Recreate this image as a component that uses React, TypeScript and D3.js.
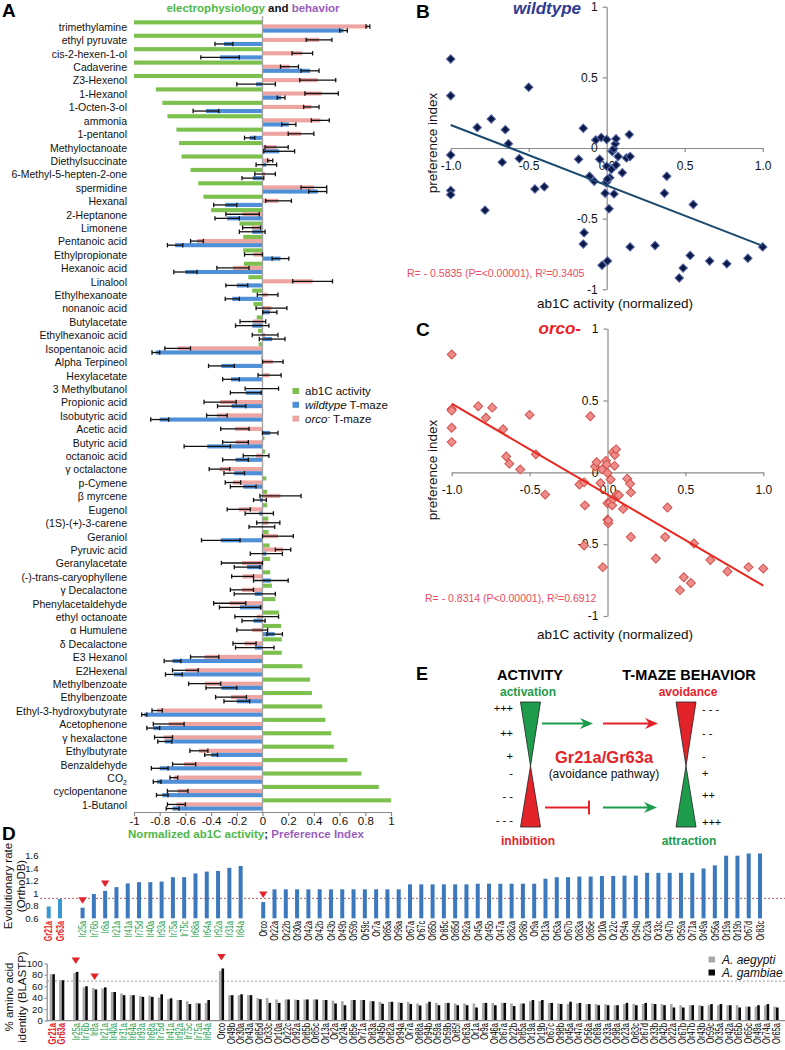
import React, { useEffect, useRef } from 'react';
import * as d3 from 'd3';

const FONT = "'Liberation Sans', Arial, Helvetica, sans-serif";

// ---------- panel A/B/C: odorants, ab1C activity and T-maze preference ----------
const odorants = [
  'trimethylamine', 'ethyl pyruvate', 'cis-2-hexen-1-ol', 'Cadaverine', 'Z3-Hexenol', '1-Hexanol',
  '1-Octen-3-ol', 'ammonia', '1-pentanol', 'Methyloctanoate', 'Diethylsuccinate', '6-Methyl-5-hepten-2-one',
  'spermidine', 'Hexanal', '2-Heptanone', 'Limonene', 'Pentanoic acid', 'Ethylpropionate', 'Hexanoic acid',
  'Linalool', 'Ethylhexanoate', 'nonanoic acid', 'Butylacetate', 'Ethylhexanoic acid', 'Isopentanoic acid',
  'Alpha Terpineol', 'Hexylacetate', '3 Methylbutanol', 'Propionic acid', 'Isobutyric acid', 'Acetic acid',
  'Butyric acid', 'octanoic acid', 'γ octalactone', 'p-Cymene', 'β myrcene', 'Eugenol', '(1S)-(+)-3-carene',
  'Geraniol', 'Pyruvic acid', 'Geranylacetate', '(-)-trans-caryophyllene', 'γ Decalactone', 'Phenylacetaldehyde',
  'ethyl octanoate', 'α Humulene', 'δ Decalactone', 'E3 Hexanol', 'E2Hexenal', 'Methylbenzoate', 'Ethylbenzoate',
  'Ethyl-3-hydroxybutyrate', 'Acetophenone', 'γ hexalactone', 'Ethylbutyrate', 'Benzaldehyde', 'CO2',
  'cyclopentanone', '1-Butanol',
];
const ab1cActivity = [
  -1, -1, -1, -1, -1, -0.83, -0.78, -0.74, -0.67, -0.65, -0.63, -0.56, -0.5, -0.46, -0.4, -0.18, -0.15, -0.15,
  -0.145, -0.11, -0.08, -0.07, -0.045, -0.035, -0.03, -0.01, -0.005, 0, 0, 0.005, 0, 0.015, 0.02, 0.005, 0.03,
  0.035, 0.036, 0.045, 0.047, 0.055, 0.06, 0.06, 0.073, 0.1, 0.127, 0.145, 0.15, 0.15, 0.31, 0.37, 0.385, 0.465,
  0.49, 0.535, 0.555, 0.66, 0.77, 0.905, 1,
];
const wildtypePI = [
  0.63, -0.3, -0.33, 0.37, -0.05, 0.145, -0.44, 0.205, -0.1, 0.13, 0.03, -0.075, 0.43, -0.29, -0.275, -0.08,
  -0.68, 0.14, -0.6, -0.2, -0.235, 0.057, -0.08, 0.075, -0.83, -0.32, -0.245, -0.13, -0.24, -0.8, 0.06, -0.43,
  -0.21, -0.22, -0.15, -0.02, -0.025, -0.005, -0.325, 0.03, -0.12, 0.065, -0.06, -0.175, -0.07, 0.095, -0.06,
  -0.7, -0.69, -0.32, -0.2, -0.92, -0.85, -0.76, -0.4, -0.8, -0.82, -0.78, -0.7,
];
const wildtypeSEM = [
  0.03, 0.07, 0.15, 0.07, 0.15, 0.03, 0.1, 0.055, 0.04, 0.12, 0.08, 0.085, 0.07, 0.09, 0.095, 0.1, 0.06, 0.065,
  0.09, 0.085, 0.055, 0.055, 0.13, 0.1, 0.03, 0.1, 0.065, 0.12, 0.11, 0.07, 0.06, 0.18, 0.1, 0.08, 0.1, 0.05,
  0.11, 0.1, 0.15, 0.125, 0.1, 0.135, 0.16, 0.16, 0.09, 0.06, 0.15, 0.065, 0.065, 0.12, 0.1, 0.02, 0.05, 0.055,
  0.05, 0.065, 0.03, 0.045, 0.05,
];
const orcoPI = [
  0.82, 0.44, 0.31, 0.21, 0.43, 0.46, 0.38, 0.45, 0.3, 0.11, 0.06, 0.02, 0.4, 0.125, -0.155, -0.085, -0.51,
  -0.07, -0.23, 0.39, 0.04, 0.07, -0.075, 0.02, -0.66, 0.08, 0.055, -0.005, -0.33, -0.355, -0.215, -0.21, -0.05,
  -0.335, -0.23, 0.14, -0.185, 0.045, 0.12, 0.16, -0.16, -0.155, -0.16, -0.255, -0.045, -0.08, -0.14, -0.45,
  -0.6, -0.45, -0.245, -0.82, -0.73, -0.77, -0.495, -0.61, -0.69, -0.66, -0.67,
];
const orcoSEM = [
  0.015, 0.1, 0.08, 0.07, 0.14, 0.13, 0.06, 0.07, 0.1, 0.09, 0.02, 0.08, 0.1, 0.1, 0.13, 0.07, 0.05, 0.07,
  0.125, 0.155, 0.08, 0.12, 0.1, 0.1, 0.1, 0.08, 0.09, 0.13, 0.125, 0.08, 0.11, 0.1, 0.1, 0.08, 0.06, 0.16,
  0.09, 0.09, 0.12, 0.06, 0.16, 0.085, 0.09, 0.125, 0.17, 0.12, 0.09, 0.11, 0.1, 0.125, 0.12, 0.04, 0.12, 0.07,
  0.07, 0.09, 0.03, 0.08, 0.07,
];
const barTicks = [-1, -0.8, -0.6, -0.4, -0.2, 0, 0.2, 0.4, 0.6, 0.8, 1];
const scatterTicks = [-1, -0.5, 0, 0.5, 1];

// ---------- panel D: receptor evolution ----------
const evoGenes = [
  'Gr21a', 'Gr63a', 'Ir25a', 'Ir76b', 'Ir8a', 'Ir21a', 'Ir41a', 'Ir75d', 'Ir40a', 'Ir93a', 'Ir75a', 'Ir75c',
  'Ir68a', 'Ir64a', 'Ir92a', 'Ir31a', 'Ir84a', 'Orco', 'Or22a', 'Or22b', 'Or30a', 'Or42a', 'Or42b', 'Or43b',
  'Or49b', 'Or59b', 'Or59c', 'Or7a', 'Or85a', 'Or98a', 'Or67a', 'Or67c', 'Or85b', 'Or85c', 'Or85d', 'Or92a',
  'Or45a', 'Or45b', 'Or47a', 'Or82a', 'Or98b', 'Or9a', 'Or13a', 'Or63a', 'Or67b', 'Or83a', 'Or85e', 'Or10a',
  'Or22c', 'Or94a', 'Or94b', 'Or23a', 'Or33c', 'Or47b', 'Or59a', 'Or71a', 'Or49a', 'Or56a', 'Or19a', 'Or19b',
  'Or67d', 'Or83c',
];
const evoRate = [
  0.79, 0.91, 0.77, 0.99, 1.04, 1.1, 1.16, 1.18, 1.18, 1.19, 1.26, 1.26, 1.32, 1.35, 1.36, 1.41, 1.44, 0.86,
  1.065, 1.065, 1.065, 1.065, 1.065, 1.065, 1.065, 1.065, 1.065, 1.065, 1.065, 1.065,
  1.145, 1.145, 1.145, 1.145, 1.145, 1.145, 1.155, 1.155, 1.155, 1.155, 1.155, 1.155,
  1.235, 1.26, 1.26, 1.27, 1.27, 1.28, 1.28, 1.285, 1.285, 1.33, 1.33, 1.33, 1.33, 1.33, 1.4, 1.45,
  1.605, 1.605, 1.64, 1.64,
];
const evoTicks = [0.6, 0.8, 1, 1.2, 1.4, 1.6];
const evoCutoff = 0.92;

const identityGenes = [
  'Gr21a', 'Gr63a', 'Ir25a', 'Ir76b', 'Ir8a', 'Ir21a', 'Ir40a', 'Ir31a', 'Ir64a', 'Ir93a', 'Ir68a', 'Ir75d',
  'Ir41a', 'Ir92a', 'Ir75c', 'Ir75a', 'Ir84a', 'Orco', 'Or49b', 'Or30a', 'Or43a', 'Or85d', 'Or33c', 'Or10a',
  'Or22c', 'Or92a', 'Or85b', 'Or85c', 'Or13a', 'Or2a', 'Or24a', 'Or85e', 'Or71a', 'Or83a', 'Or45b', 'Or82a',
  'Or94a', 'Or7a', 'Or88a', 'Or94b', 'Or59a', 'Or59b', 'Or85f', 'Or63a', 'Or1a', 'Or9a', 'Or46a', 'Or67a',
  'Or22b', 'Or85a', 'Or19a', 'Or19b', 'Or67c', 'Or98b', 'Or45a', 'Or47a', 'Or56a', 'Or69a', 'Or33a', 'Or98a',
  'Or23a', 'Or83c', 'Or67d', 'Or33b', 'Or42b', 'Or22a', 'Or67b', 'Or47b', 'Or43b', 'Or59c', 'Or35a', 'Or42a',
  'Or65b', 'Or65c', 'Or49a', 'Or74a', 'Or65a',
];
const identityAegypti = [
  81, 70.5, 83, 58, 57, 56, 50, 47.5, 44.5, 43, 43.5, 40.5, 37.5, 36, 34, 31, 31, 86.5, 44.5, 44.5, 44.5, 39.5,
  39.5, 37, 37, 37, 37, 37, 36, 35, 34, 36, 36, 34, 33, 33, 32, 33, 30, 30, 31, 31, 30, 30, 30, 31, 31, 31, 30,
  30, 34, 34, 31, 30, 29, 30, 29, 29, 29, 27, 29, 29, 29, 30, 29, 29, 27, 27, 27, 27, 27, 27, 27, 24.5, 24.5,
  27, 24.5,
];
const identityGambiae = [
  81, 70.5, 85, 60, 54.5, 58, 50, 44.5, 44.5, 41.5, 41.5, 46, 39, 36, 29, 30, 36, 91, 44.5, 46, 44.5, 37.5, 31,
  31, 37, 36, 37, 37, 36, 30, 27, 36, 36, 34, 29.5, 33, 31, 29, 26.5, 33, 27, 31, 27, 27, 23, 31, 27, 31, 25.5,
  30, 36, 36, 31, 29, 33, 31, 29, 27, 27, 27, 31, 27, 31, 29, 27, 23, 23, 27, 25.5, 29, 29, 27, 23, 24.5, 27,
  29, 23,
];
const identityTicks = [0, 20, 40, 60, 80, 100];
const identityCutoff = 69;
const markedGenes = ['Ir25a', 'Ir8a', 'Orco'];

const C = {
  green: '#7cc14e', pink: '#eea4a1', blue: '#4f8fd7',
  titleGreen: '#4db848', purple: '#9a5dbf',
  axis: '#8c8c8c', red: '#e3232a', dGreen: '#1d9c4b',
  evoBar: '#3b78bd', evoBarGr: '#3a97d5', gray: '#a9a9a9',
};

function geneGroup(g: string) {
  return g.startsWith('Gr') ? 'Gr' : g.startsWith('Ir') ? 'Ir' : 'Or';
}
function geneColor(g: string) {
  const grp = geneGroup(g);
  return grp === 'Gr' ? C.red : grp === 'Ir' ? C.dGreen : '#000';
}
function slotPositions(genes: string[], gap: number) {
  let s = 0;
  return genes.map((g, i) => {
    if (i > 0 && geneGroup(g) !== geneGroup(genes[i - 1])) s += gap;
    const out = s;
    s += 1;
    return out;
  });
}

function txt(g: any, x: number, y: number, str: string, o: any = {}) {
  return g.append('text')
    .attr('x', x).attr('y', y)
    .attr('font-size', o.size || 11)
    .attr('font-weight', o.weight || 'normal')
    .attr('font-style', o.style || 'normal')
    .attr('fill', o.fill || '#000')
    .attr('text-anchor', o.anchor || 'start')
    .text(str);
}

function styleAxis(sel: any, size: number) {
  sel.attr('font-family', FONT).attr('font-size', size);
  sel.select('.domain').attr('stroke', C.axis).attr('stroke-width', 1.2);
  sel.selectAll('.tick line').attr('stroke', C.axis).attr('stroke-width', 1.2);
  sel.selectAll('.tick text').attr('fill', '#111');
}

// ---------------- panel A ----------------
function drawOdorBars(svg: any) {
  const g = svg.append('g').attr('font-family', FONT);
  const x = d3.scaleLinear().domain([-1, 1]).range([134, 391]);
  const y = d3.scaleBand().domain(odorants).range([20.3, 811.7]);
  const bh = y.bandwidth() * 0.306;

  txt(g, 2, 17, 'A', { size: 19, weight: 'bold' });
  const title = g.append('text').attr('x', 253).attr('y', 11.5).attr('text-anchor', 'middle')
    .attr('font-size', 11.5).attr('font-weight', 'bold');
  title.append('tspan').attr('fill', C.titleGreen).text('electrophysiology');
  title.append('tspan').attr('fill', '#111').text(' and ');
  title.append('tspan').attr('fill', C.purple).text('behavior');

  const series = [
    { values: ab1cActivity, err: null, color: C.green, k: 0 },
    { values: orcoPI, err: orcoSEM, color: C.pink, k: 1 },
    { values: wildtypePI, err: wildtypeSEM, color: C.blue, k: 2 },
  ];
  series.forEach((s) => {
    g.append('g').selectAll('rect').data(odorants).join('rect')
      .attr('x', (d: string, i: number) => Math.min(x(0), x(s.values[i])))
      .attr('width', (d: string, i: number) => Math.abs(x(s.values[i]) - x(0)))
      .attr('y', (d: string) => (y(d) as number) + s.k * bh)
      .attr('height', bh)
      .attr('fill', s.color);
  });

  g.append('line').attr('x1', x(0)).attr('x2', x(0)).attr('y1', 16).attr('y2', 812)
    .attr('stroke', '#a3a3a3').attr('stroke-width', 1.3);

  series.filter((s) => s.err).forEach((s) => {
    const eg = g.append('g').attr('stroke', '#111').attr('stroke-width', 1.3);
    odorants.forEach((d, i) => {
      const cy = (y(d) as number) + s.k * bh + bh / 2;
      const lo = x(s.values[i] - (s.err as number[])[i]);
      const hi = x(s.values[i] + (s.err as number[])[i]);
      eg.append('line').attr('x1', lo).attr('x2', hi).attr('y1', cy).attr('y2', cy);
      eg.append('line').attr('x1', lo).attr('x2', lo).attr('y1', cy - 2.2).attr('y2', cy + 2.2);
      eg.append('line').attr('x1', hi).attr('x2', hi).attr('y1', cy - 2.2).attr('y2', cy + 2.2);
    });
  });

  // category labels
  odorants.forEach((d) => {
    const t = g.append('text').attr('x', 127).attr('y', (y(d) as number) + y.bandwidth() / 2)
      .attr('dy', '0.36em').attr('text-anchor', 'end').attr('font-size', 10.5).attr('fill', '#111');
    if (d === 'CO2') {
      t.append('tspan').text('CO');
      t.append('tspan').attr('font-size', 7).attr('dy', 3).text('2');
    } else t.text(d);
  });

  const xa = g.append('g').attr('transform', 'translate(0,812)')
    .call(d3.axisBottom(x).tickValues(barTicks).tickSize(4).tickSizeOuter(0).tickPadding(1)
      .tickFormat((v: any) => String(+(+v).toFixed(1))));
  styleAxis(xa, 11.5);

  const xt = g.append('text').attr('x', 246).attr('y', 837.5).attr('text-anchor', 'middle')
    .attr('font-size', 11.5).attr('font-weight', 'bold');
  xt.append('tspan').attr('fill', C.titleGreen).text('Normalized ab1C activity');
  xt.append('tspan').attr('fill', '#111').text('; ');
  xt.append('tspan').attr('fill', C.purple).text('Preference Index');

  // legend
  const lg = g.append('g').attr('font-size', 11.5);
  const items = [
    { color: C.green, parts: [['ab1C activity', 'normal']] },
    { color: C.blue, parts: [['wildtype', 'italic'], [' T-maze', 'normal']] },
    { color: C.pink, parts: [['orco', 'italic'], ['-', 'sup'], [' T-maze', 'after']] },
  ];
  items.forEach((it, i) => {
    const cy = 391 + i * 13.8;
    lg.append('rect').attr('x', 292.5).attr('y', cy - 3).attr('width', 6.5).attr('height', 6).attr('fill', it.color);
    const t = lg.append('text').attr('x', 305).attr('y', cy + 4).attr('fill', '#111');
    it.parts.forEach(([s, st]) => {
      if (st === 'sup') t.append('tspan').attr('font-size', 8).attr('dy', -4).text(s);
      else if (st === 'after') t.append('tspan').attr('dy', 4).text(s);
      else t.append('tspan').attr('font-style', st).text(s);
    });
  });
}

// ---------------- panels B, C ----------------
function drawScatter(svg: any, cfg: any) {
  const g = svg.append('g').attr('font-family', FONT);
  const x = d3.scaleLinear().domain([-1, 1]).range(cfg.xRange);
  const y = d3.scaleLinear().domain([-1, 1]).range(cfg.yRange);

  const xa = g.append('g').attr('transform', `translate(0,${y(0)})`)
    .call(d3.axisBottom(x).tickValues(scatterTicks).tickSize(4).tickSizeOuter(0).tickPadding(9)
      .tickFormat((v: any) => (+v).toFixed(1)));
  styleAxis(xa, 12);
  const ya = g.append('g').attr('transform', `translate(${x(0)},0)`)
    .call(d3.axisLeft(y).tickValues(scatterTicks).tickSize(4).tickSizeOuter(0).tickPadding(5)
      .tickFormat((v: any) => String(+v)));
  styleAxis(ya, 12);

  const xs: number[] = cfg.xs;
  const ys: number[] = cfg.ys;
  const mx = d3.mean(xs) as number;
  const my = d3.mean(ys) as number;
  const slope = d3.sum(xs, (v, i) => (v - mx) * (ys[i] - my)) / d3.sum(xs, (v) => (v - mx) ** 2);
  const icpt = my - slope * mx;

  const sym = d3.symbol().type(d3.symbolSquare).size(cfg.size);
  g.append('g').selectAll('path').data(xs).join('path')
    .attr('d', sym as any)
    .attr('transform', (v: number, i: number) => `translate(${x(v)},${y(ys[i])}) rotate(45)`)
    .attr('fill', cfg.fill).attr('stroke', cfg.stroke).attr('stroke-width', 1);

  const line = d3.line<number>().x((v) => x(v)).y((v) => y(slope * v + icpt));
  g.append('path').attr('d', line([-1, 1])).attr('fill', 'none')
    .attr('stroke', cfg.lineColor).attr('stroke-width', 2);

  txt(g, 416, cfg.letterY, cfg.letter, { size: 19, weight: 'bold' });
  txt(g, 581, cfg.titleY, cfg.title, { size: 17, weight: 'bold', style: 'italic', fill: cfg.titleColor, anchor: 'end' });
  txt(g, cfg.rX, cfg.rY, cfg.rText, { size: 10.5, fill: '#ec4a5f' });
  txt(g, 615, cfg.xTitleY, 'ab1C activity (normalized)', { size: 13.5, anchor: 'middle', fill: '#111' });
  g.append('text').attr('transform', `translate(432,${cfg.yTitleY}) rotate(-90)`)
    .attr('text-anchor', 'middle').attr('dy', '0.35em').attr('font-size', 13.5).attr('fill', '#111')
    .text('preference index');
}

// ---------------- panel E ----------------
function drawModel(svg: any) {
  const g = svg.append('g').attr('font-family', FONT);
  const tri = (p: number[][]) => 'M' + p.map((q) => q.join(',')).join('L') + 'Z';
  const top = 702, mid = 766, bot = 827, hw = 10;
  const hour = (cx: number, upper: string, lower: string) => {
    g.append('path').attr('d', tri([[cx - hw, top], [cx + hw, top], [cx, mid]]))
      .attr('fill', upper).attr('stroke', '#222').attr('stroke-width', 0.8);
    g.append('path').attr('d', tri([[cx, mid], [cx + hw, bot], [cx - hw, bot]]))
      .attr('fill', lower).attr('stroke', '#222').attr('stroke-width', 0.8);
  };
  hour(530.5, C.dGreen, C.red);
  hour(686, C.red, C.dGreen);

  const arrow = (x1: number, x2: number, yy: number, color: string) => {
    g.append('line').attr('x1', x1).attr('x2', x2 - 8).attr('y1', yy).attr('y2', yy)
      .attr('stroke', color).attr('stroke-width', 1.8);
    g.append('path').attr('d', `M${x2},${yy}L${x2 - 13},${yy - 5.5}L${x2 - 9},${yy}L${x2 - 13},${yy + 5.5}Z`)
      .attr('fill', color);
  };
  arrow(542, 593, 723.5, C.dGreen);
  arrow(603, 658, 723.5, C.red);
  arrow(603, 657, 807.5, C.dGreen);
  g.append('line').attr('x1', 545).attr('x2', 589).attr('y1', 807.5).attr('y2', 807.5)
    .attr('stroke', C.red).attr('stroke-width', 1.8);
  g.append('line').attr('x1', 589).attr('x2', 589).attr('y1', 800.5).attr('y2', 814.5)
    .attr('stroke', C.red).attr('stroke-width', 2);

  txt(g, 416, 680, 'E', { size: 18, weight: 'bold' });
  txt(g, 530, 680, 'ACTIVITY', { size: 14.5, weight: 'bold', anchor: 'middle' });
  txt(g, 689, 680, 'T-MAZE BEHAVIOR', { size: 14.5, weight: 'bold', anchor: 'middle' });
  txt(g, 528, 695.5, 'activation', { size: 12, weight: 'bold', anchor: 'middle', fill: C.dGreen });
  txt(g, 688, 695.5, 'avoidance', { size: 12, weight: 'bold', anchor: 'middle', fill: C.red });
  txt(g, 528, 844.5, 'inhibition', { size: 12, weight: 'bold', anchor: 'middle', fill: C.red });
  txt(g, 689, 844.5, 'attraction', { size: 12, weight: 'bold', anchor: 'middle', fill: C.dGreen });
  txt(g, 604, 763, 'Gr21a/Gr63a', { size: 16.5, weight: 'bold', anchor: 'middle', fill: C.red });
  txt(g, 604, 777.5, '(avoidance pathway)', { size: 12, anchor: 'middle', fill: '#111' });

  const left = [['+++', 708], ['++', 733], ['+', 756], ['-', 773], ['- -', 796], ['- - -', 820]];
  left.forEach(([s, yy]) => txt(g, 513, (yy as number) + 4, s as string, { size: 11, anchor: 'end' }));
  const right = [['- - -', 709], ['- -', 733], ['-', 756], ['+', 773], ['++', 795], ['+++', 822]];
  right.forEach(([s, yy]) => txt(g, 702, (yy as number) + 4, s as string, { size: 11 }));
}

// ---------------- panel D ----------------
function rotatedLabels(g: any, genes: string[], xpos: (i: number) => number, yTop: number, sx: number) {
  genes.forEach((gname, i) => {
    g.append('text')
      .attr('transform', `translate(${xpos(i)},${yTop}) rotate(-90) scale(${sx},1)`)
      .attr('text-anchor', 'end').attr('dy', '0.36em').attr('font-size', 10.5)
      .attr('font-weight', geneGroup(gname) === 'Gr' ? 'bold' : 'normal')
      .attr('fill', geneColor(gname)).text(gname);
  });
}
function marker(g: any, cx: number, tipY: number) {
  g.append('path').attr('d', `M${cx - 4.2},${tipY - 6.5}L${cx + 4.2},${tipY - 6.5}L${cx},${tipY}Z`).attr('fill', C.red);
}
function rotatedTitle(g: any, x: number, cy: number, str: string) {
  g.append('text').attr('transform', `translate(${x},${cy}) rotate(-90)`)
    .attr('text-anchor', 'middle').attr('dy', '0.35em').attr('font-size', 11.5).attr('fill', '#111')
    .text(str);
}

function drawEvolution(svg: any) {
  const g = svg.append('g').attr('font-family', FONT);
  txt(g, 2, 840, 'D', { size: 19, weight: 'bold' });
  const slots = slotPositions(evoGenes, 1);
  const x = d3.scaleLinear().domain([0, 63]).range([48.7, 760]);
  const y = d3.scaleLinear().domain([0.6, 1.6]).range([918.3, 856]);

  evoTicks.forEach((t) => txt(g, 38.5, y(t) + 3.3, String(t), { size: 9.5, anchor: 'end', fill: '#111' }));
  g.append('line').attr('x1', 40).attr('x2', 785).attr('y1', y(evoCutoff)).attr('y2', y(evoCutoff))
    .attr('stroke', '#b25a5a').attr('stroke-width', 1).attr('stroke-dasharray', '2,2');

  g.append('g').selectAll('rect').data(evoGenes).join('rect')
    .attr('x', (d: string, i: number) => x(slots[i]) - 2)
    .attr('width', 4)
    .attr('y', (d: string, i: number) => y(evoRate[i]))
    .attr('height', (d: string, i: number) => y(0.6) - y(evoRate[i]))
    .attr('fill', (d: string) => (geneGroup(d) === 'Gr' ? C.evoBarGr : C.evoBar));

  evoGenes.forEach((d, i) => {
    if (markedGenes.includes(d)) marker(g, x(slots[i]), y(evoRate[i]) - 4);
  });
  rotatedLabels(g, evoGenes, (i) => x(slots[i]), 921, 0.68);

  rotatedTitle(g, 8, 886, 'Evolutionary rate');
  rotatedTitle(g, 20.5, 886, '(OrthoDB)');
}

function drawIdentity(svg: any) {
  const g = svg.append('g').attr('font-family', FONT);
  const slots = slotPositions(identityGenes, 0.5);
  const x = d3.scaleLinear().domain([0, 77]).range([52.3, 776]);
  const y = d3.scaleLinear().domain([0, 100]).range([1020.7, 963.3]);

  g.append('line').attr('x1', 47).attr('x2', 785).attr('y1', y(identityCutoff)).attr('y2', y(identityCutoff))
    .attr('stroke', '#9a9a9a').attr('stroke-width', 1).attr('stroke-dasharray', '2,2');

  const bw = 2.6;
  g.append('g').selectAll('rect').data(identityGenes).join('rect')
    .attr('x', (d: string, i: number) => x(slots[i]) - bw)
    .attr('width', bw)
    .attr('y', (d: string, i: number) => y(identityAegypti[i]))
    .attr('height', (d: string, i: number) => y(0) - y(identityAegypti[i]))
    .attr('fill', C.gray);
  g.append('g').selectAll('rect').data(identityGenes).join('rect')
    .attr('x', (d: string, i: number) => x(slots[i]))
    .attr('width', bw)
    .attr('y', (d: string, i: number) => y(identityGambiae[i]))
    .attr('height', (d: string, i: number) => y(0) - y(identityGambiae[i]))
    .attr('fill', '#0a0a0a');

  const ya = g.append('g').attr('transform', 'translate(46.7,0)')
    .call(d3.axisLeft(y).tickValues(identityTicks).tickSize(2).tickSizeOuter(0).tickPadding(2)
      .tickFormat((v: any) => String(v)));
  styleAxis(ya, 9.5);
  g.append('line').attr('x1', 46.7).attr('x2', 785).attr('y1', y(0)).attr('y2', y(0))
    .attr('stroke', C.axis).attr('stroke-width', 1.2);

  identityGenes.forEach((d, i) => {
    if (markedGenes.includes(d)) {
      const top = Math.max(identityAegypti[i], identityGambiae[i]);
      marker(g, x(slots[i]), y(top) - 8);
    }
  });
  rotatedLabels(g, identityGenes, (i) => x(slots[i]), 1023, 0.72);

  rotatedTitle(g, 9, 997, '% amino acid');
  rotatedTitle(g, 22, 997, 'identity (BLASTP)');

  const legend = [['A. aegypti', C.gray, 959.5], ['A. gambiae', '#0a0a0a', 972.5]];
  legend.forEach(([label, color, cy]) => {
    g.append('rect').attr('x', 708.5).attr('y', (cy as number) - 3).attr('width', 6.5).attr('height', 6).attr('fill', color);
    txt(g, 722, (cy as number) + 4, label as string, { size: 12, style: 'italic', fill: '#111' });
  });
}

export default function App() {
  const ref = useRef<SVGSVGElement>(null);

  useEffect(() => {
    const svg = d3.select(ref.current);
    svg.selectAll('*').remove();
    svg.append('rect').attr('width', 785).attr('height', 1050).attr('fill', '#fff');
    drawOdorBars(svg);
    drawScatter(svg, {
      xRange: [450.7, 762.7], yRange: [289.3, 6.7], xs: ab1cActivity, ys: wildtypePI,
      fill: '#0c1a48', stroke: '#5868a8', lineColor: '#1b4a6e', size: 36,
      letter: 'B', letterY: 18, title: 'wildtype', titleColor: '#2e3b93', titleY: 14,
      rText: 'R= - 0.5835 (P=<0.00001), R²=0.3405', rX: 407, rY: 276.5, xTitleY: 308, yTitleY: 143,
    });
    drawScatter(svg, {
      xRange: [451.7, 763.3], yRange: [616, 328.6], xs: ab1cActivity, ys: orcoPI,
      fill: '#ef8d8a', stroke: '#d2504c', lineColor: '#e8281e', size: 40,
      letter: 'C', letterY: 336, title: 'orco-', titleColor: '#ee1c25', titleY: 334,
      rText: 'R= - 0.8314 (P<0.00001), R²=0.6912', rX: 425, rY: 601.5, xTitleY: 638.5, yTitleY: 470,
    });
    drawModel(svg);
    drawEvolution(svg);
    drawIdentity(svg);
  }, []);

  return (
    <svg ref={ref} width={785} height={1050}
      style={{ position: 'absolute', left: 0, top: 0, display: 'block' }} />
  );
}
